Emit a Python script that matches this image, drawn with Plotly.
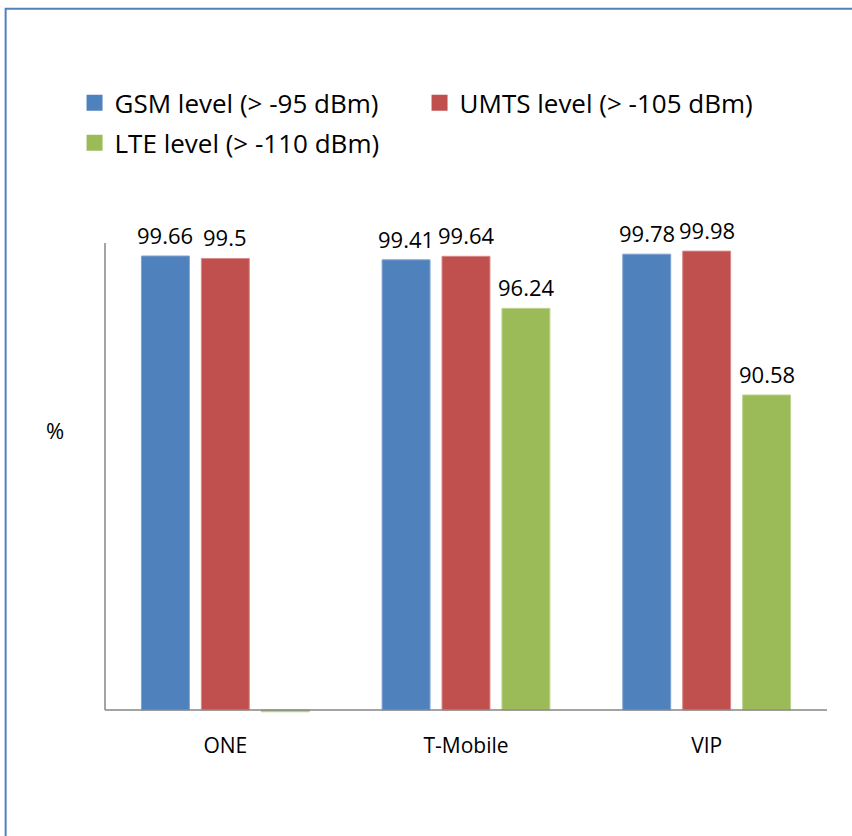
import plotly.graph_objects as go

# Share of measurement points above each signal threshold, per operator
operators = ["ONE", "T-Mobile", "VIP"]
gsm = [99.66, 99.41, 99.78]
umts = [99.5, 99.64, 99.98]
lte = [0.0, 96.24, 90.58]

series_names = ["GSM level (> -95 dBm)", "UMTS level (> -105 dBm)", "LTE level (> -110 dBm)"]
series_colors = ["#4F81BD", "#C0504D", "#9BBB59"]
edge_colors = ["#7FA3D3", "#D88A88", "#BCD38E"]
legend_ids = ["legend", "legend", "legend2"]

Y_MIN, Y_MAX = 70.0, 100.51
Y_FLOOR = 69.8          # a little room under the baseline
W, H = 852, 836
L, R, T, B = 104.5, 24.5, 243, 123.44
PW, PH = W - L - R, H - T - B
BARGAP, BARGROUPGAP = 0.253, 0.2
N_SERIES = 3
SLOT_PX = PW / len(operators) * (1 - BARGAP) / N_SERIES


def px_x(x):
    return (x - L) / PW


def px_y(y):
    return (H - B - y) / PH


FONT = "Open Sans"
fig = go.Figure()
annotations = []

for i, (name, vals, col, edge, lg) in enumerate(
        zip(series_names, [gsm, umts, lte], series_colors, edge_colors, legend_ids)):
    # values below the axis minimum show as a thin sliver under the baseline
    heights = [v - Y_MIN if v >= Y_MIN else -0.12 for v in vals]
    fig.add_trace(go.Bar(
        x=operators, y=heights, base=Y_MIN, name=name,
        marker=dict(color=col, line=dict(color=edge, width=1)),
        showlegend=False, hoverinfo="skip",
    ))
    # legend entry with a larger square swatch
    fig.add_trace(go.Scatter(
        x=[None], y=[None], mode="markers", name=name, legend=lg,
        marker=dict(symbol="square", size=16, color=col),
    ))
    # value labels above each bar
    for op, v in zip(operators, vals):
        if v < Y_MIN:
            continue
        annotations.append(dict(
            x=op, y=v, xref="x", yref="y", text=f"{v:g}", showarrow=False,
            xshift=(i - (N_SERIES - 1) / 2) * SLOT_PX, yshift=21,
            xanchor="center", yanchor="middle",
            font=dict(family=FONT, size=22, color="#000000"),
        ))

annotations.append(dict(
    text="%", xref="paper", yref="paper", x=px_x(54), y=px_y(430),
    showarrow=False, font=dict(family=FONT, size=22, color="#000000"),
    xanchor="center", yanchor="middle",
))

legend_style = dict(
    orientation="h", xanchor="left", yanchor="middle",
    entrywidth=300, entrywidthmode="pixels",
    font=dict(family=FONT, size=26, color="#000000"),
    itemsizing="trace", bgcolor="rgba(0,0,0,0)",
)

fig.update_layout(
    width=W, height=H,
    margin=dict(l=L, r=R, t=T, b=B, pad=0),
    paper_bgcolor="white", plot_bgcolor="white",
    barmode="group", bargap=BARGAP, bargroupgap=BARGROUPGAP,
    font=dict(family=FONT, size=21, color="#000000"),
    legend=dict(x=px_x(74), y=px_y(103), **legend_style),
    legend2=dict(x=px_x(74), y=px_y(143), **legend_style),
    xaxis=dict(
        showline=False, showgrid=False, zeroline=False, ticks="",
        tickfont=dict(family=FONT, size=21), ticklabelstandoff=18,
    ),
    yaxis=dict(
        range=[Y_FLOOR, Y_MAX], showline=False, showgrid=False,
        zeroline=False, showticklabels=False, ticks="",
    ),
    shapes=[
        # value axis and category axis lines
        dict(type="line", xref="paper", yref="y", x0=0, x1=0, y0=Y_MIN, y1=Y_MAX,
             line=dict(color="#868686", width=1.5)),
        dict(type="line", xref="paper", yref="y", x0=0, x1=1, y0=Y_MIN, y1=Y_MIN,
             line=dict(color="#868686", width=1.5)),
        # chart area frame
        dict(type="rect", xref="paper", yref="paper", x0=px_x(5), x1=px_x(900),
             y0=px_y(900), y1=px_y(9), line=dict(color="#4F81BD", width=2),
             fillcolor="rgba(0,0,0,0)", layer="above"),
    ],
    annotations=annotations,
)

fig.write_html("out.html")
